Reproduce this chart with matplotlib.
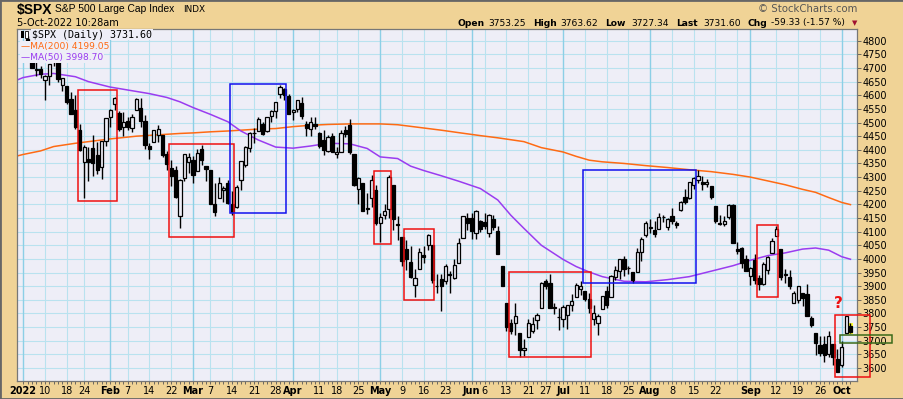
import pandas as pd
import matplotlib
matplotlib.use("Agg")
import matplotlib.pyplot as plt
from matplotlib.patches import Rectangle

# Donnees : S&P 500 quotidien, 3 jan 2022 -> 5 oct 2022
opens = [4778.1, 4804.5, 4788.0, 4693.4, 4697.7, 4655.3, 4669.1, 4728.6, 4733.6, 4638.0,
         4632.2, 4588.0, 4547.4, 4471.4, 4356.3, 4366.6, 4408.4, 4380.6, 4336.2, 4431.8,
         4519.6, 4566.4, 4535.4, 4482.8, 4505.8, 4480.0, 4547.0, 4553.2, 4506.3, 4412.6,
         4429.3, 4455.8, 4456.1, 4384.6, 4332.7, 4324.9, 4155.8, 4298.4, 4354.2,
         4363.1, 4322.6, 4401.3, 4342.1, 4327.0, 4202.7, 4223.1, 4252.6, 4279.5, 4202.8,
         4188.8, 4288.1, 4345.1, 4407.3, 4462.4, 4469.1, 4493.1, 4470.0, 4522.7, 4541.1,
         4602.9, 4624.2, 4599.0,
         4540.3, 4548.0, 4572.5, 4494.2, 4474.7, 4494.2, 4462.6, 4437.6, 4394.3, 4449.1,
         4385.6, 4390.6, 4472.3, 4489.2, 4385.8, 4255.3, 4278.1, 4186.5, 4222.6, 4253.8,
         4130.6, 4159.8, 4181.2, 4270.4, 4128.2, 4081.3, 4035.2, 3990.1, 3904.0, 3963.9,
         4013.0, 4052.0, 4052.0, 3899.0, 3927.8, 3919.4, 3942.9, 3929.6, 3984.6, 4077.4,
         4151.1,
         4149.8, 4095.4, 4137.6, 4134.7, 4096.5, 4147.1, 4101.7, 3974.4, 3838.2, 3763.5,
         3764.1, 3728.2, 3665.9, 3715.3, 3733.9, 3774.7, 3821.8, 3920.8, 3913.0, 3825.1,
         3786.0,
         3781.0, 3792.6, 3832.0, 3858.9, 3888.3, 3880.9, 3852.0, 3779.7, 3764.0, 3818.0,
         3883.8, 3860.7, 3935.3, 3955.5, 3998.4, 3965.7, 3953.2, 3951.4, 4026.1, 4087.3,
         4112.4, 4104.2, 4108.0, 4154.9, 4115.9, 4155.9, 4133.1, 4181.0, 4227.4, 4225.0,
         4269.4, 4290.5, 4280.4, 4273.1, 4266.3, 4195.1, 4133.1, 4126.6, 4153.3, 4198.7,
         4034.6, 4041.3, 4000.7,
         3936.7, 3994.7, 3930.9, 3909.4, 3959.9, 4022.9, 4083.7, 4037.1, 3940.7, 3932.4,
         3840.0, 3849.9, 3875.2, 3871.4, 3782.4, 3727.1, 3682.7, 3686.4, 3651.9, 3687.0,
         3633.5,
         3609.8, 3726.5, 3753.25]
highs = [4796.6, 4818.6, 4797.7, 4725.0, 4708.0, 4673.0, 4714.1, 4748.8, 4744.1, 4665.1,
         4632.2, 4611.6, 4602.1, 4494.5, 4417.4, 4411.0, 4453.2, 4428.7, 4432.7, 4516.9,
         4550.5, 4595.3, 4542.9, 4539.7, 4521.9, 4531.3, 4590.0, 4588.9, 4526.3, 4426.2,
         4472.8, 4489.6, 4456.1, 4394.6, 4362.1, 4341.5, 4294.7, 4385.3, 4388.8,
         4378.5, 4401.5, 4416.8, 4342.1, 4327.0, 4276.9, 4299.4, 4268.3, 4291.0, 4247.6,
         4271.1, 4358.9, 4412.7, 4465.4, 4481.8, 4522.0, 4501.1, 4520.6, 4546.0, 4575.7,
         4637.3, 4627.8, 4603.1,
         4548.7, 4583.5, 4593.5, 4503.9, 4521.2, 4520.4, 4464.4, 4471.0, 4453.9, 4460.5,
         4410.3, 4471.0, 4488.3, 4512.9, 4385.8, 4299.0, 4278.1, 4240.7, 4308.5, 4269.7,
         4169.8, 4200.1, 4307.7, 4270.4, 4157.7, 4081.3, 4068.8, 4049.1, 3964.8, 4038.9,
         4046.5, 4090.7, 4052.0, 3946.0, 3943.4, 3981.9, 3955.7, 3999.3, 4075.1, 4158.5,
         4168.3,
         4166.5, 4177.5, 4142.7, 4168.8, 4164.9, 4160.1, 4119.1, 3974.4, 3838.2, 3778.2,
         3837.6, 3728.2, 3707.7, 3779.7, 3786.0, 3802.6, 3913.7, 3927.7, 3945.9, 3836.5,
         3819.0,
         3829.8, 3832.2, 3870.9, 3910.6, 3918.5, 3880.9, 3873.4, 3829.4, 3796.4, 3863.6,
         3902.4, 3939.8, 3974.1, 3999.3, 4012.4, 3975.3, 3953.2, 4039.6, 4079.0, 4140.2,
         4145.0, 4140.5, 4167.7, 4161.3, 4151.6, 4186.6, 4137.3, 4211.0, 4257.9, 4280.5,
         4301.8, 4325.3, 4302.2, 4292.5, 4266.3, 4195.1, 4159.8, 4156.6, 4200.5, 4203.0,
         4063.0, 4045.0, 4015.4,
         3970.2, 4018.4, 3942.6, 3987.9, 4010.5, 4076.8, 4119.3, 4037.1, 3961.9, 3959.1,
         3881.0, 3900.5, 3876.0, 3907.1, 3790.7, 3727.1, 3715.7, 3717.5, 3736.7, 3687.0,
         3671.4,
         3698.4, 3791.9, 3763.62]
lows = [4758.2, 4774.3, 4699.4, 4671.3, 4662.7, 4582.2, 4638.3, 4706.7, 4650.3, 4614.8,
        4568.7, 4530.2, 4478.0, 4395.3, 4222.6, 4287.1, 4304.8, 4309.5, 4292.5, 4414.0,
        4483.5, 4544.3, 4470.4, 4451.5, 4471.5, 4465.4, 4547.0, 4484.3, 4401.4, 4364.8,
        4429.3, 4429.7, 4373.8, 4327.2, 4267.1, 4221.5, 4114.7, 4286.8, 4315.1,
        4279.5, 4322.6, 4345.6, 4285.0, 4199.9, 4157.9, 4223.1, 4209.8, 4200.5, 4161.7,
        4187.9, 4252.0, 4335.7, 4390.6, 4424.3, 4469.1, 4455.8, 4465.2, 4501.1, 4517.7,
        4589.7, 4581.3, 4530.4,
        4507.6, 4539.2, 4514.2, 4450.0, 4450.3, 4474.6, 4408.4, 4381.3, 4392.7, 4390.8,
        4370.3, 4390.6, 4448.8, 4384.5, 4267.6, 4200.8, 4175.0, 4162.9, 4188.6, 4124.3,
        4062.5, 4147.1, 4148.9, 4106.0, 4067.9, 3975.5, 3958.2, 3928.8, 3858.9, 3963.9,
        3984.0, 4033.9, 3911.9, 3876.6, 3810.3, 3909.0, 3875.1, 3925.0, 3984.6, 4077.4,
        4104.9,
        4073.9, 4074.4, 4098.7, 4109.2, 4080.2, 4107.2, 4017.2, 3900.2, 3734.3, 3724.8,
        3722.3, 3639.8, 3643.7, 3715.3, 3729.3, 3743.5, 3821.8, 3889.7, 3820.1, 3799.0,
        3738.7,
        3752.1, 3742.1, 3809.4, 3858.9, 3869.3, 3847.2, 3802.4, 3759.1, 3721.6, 3817.2,
        3818.6, 3860.7, 3922.0, 3927.6, 3938.9, 3943.5, 3910.7, 3951.4, 3993.0, 4079.2,
        4096.0, 4079.8, 4108.0, 4135.4, 4107.3, 4129.0, 4112.1, 4177.3, 4201.4, 4219.8,
        4256.9, 4277.8, 4253.1, 4262.0, 4218.7, 4129.9, 4124.0, 4120.0, 4147.6, 4057.7,
        4017.4, 3965.2, 3954.5,
        3903.7, 3906.2, 3886.8, 3906.0, 3944.8, 4022.9, 4083.7, 3921.7, 3912.1, 3888.3,
        3837.1, 3838.5, 3827.5, 3789.5, 3749.5, 3647.5, 3644.8, 3623.3, 3640.6, 3610.4,
        3584.1,
        3604.9, 3726.5, 3727.34]
closes = [4796.6, 4793.5, 4700.6, 4696.1, 4677.0, 4670.3, 4713.1, 4726.4, 4659.0, 4662.9,
          4577.1, 4532.8, 4482.7, 4397.9, 4410.1, 4356.5, 4349.9, 4326.5, 4431.9, 4515.6,
          4546.5, 4589.4, 4477.4, 4500.5, 4483.9, 4521.5, 4587.2, 4504.1, 4418.6, 4401.7,
          4471.1, 4475.0, 4380.3, 4348.9, 4304.8, 4225.5, 4288.7, 4384.7, 4373.9,
          4306.3, 4386.5, 4363.5, 4328.9, 4201.1, 4170.7, 4277.9, 4259.5, 4204.3, 4173.1,
          4262.5, 4357.9, 4411.7, 4463.1, 4461.2, 4511.6, 4456.2, 4520.2, 4543.1, 4575.5,
          4631.6, 4602.5, 4530.4,
          4545.9, 4582.6, 4525.1, 4481.2, 4500.2, 4488.3, 4412.5, 4397.5, 4446.6, 4392.6,
          4391.7, 4462.2, 4459.5, 4393.7, 4271.8, 4296.1, 4175.2, 4184.0, 4287.5, 4131.9,
          4155.4, 4175.5, 4300.2, 4146.9, 4123.3, 3991.2, 4001.1, 3935.2, 3930.1, 4023.9,
          4008.0, 4088.9, 3923.7, 3900.8, 3901.4, 3973.8, 3941.5, 3978.7, 4057.8, 4158.2,
          4132.2,
          4101.2, 4176.8, 4108.5, 4121.4, 4160.7, 4115.8, 4017.8, 3900.9, 3749.6, 3735.5,
          3790.0, 3666.8, 3674.8, 3764.8, 3759.9, 3795.7, 3911.7, 3900.1, 3821.6, 3818.8,
          3785.4,
          3825.3, 3831.4, 3845.1, 3902.6, 3899.4, 3854.4, 3818.8, 3801.8, 3790.4, 3863.2,
          3830.9, 3936.7, 3959.9, 3999.0, 3961.6, 3966.8, 3921.1, 4023.6, 4072.4, 4130.3,
          4118.6, 4091.2, 4155.2, 4151.9, 4145.2, 4140.1, 4122.5, 4210.2, 4207.3, 4280.2,
          4297.1, 4305.2, 4274.0, 4283.7, 4228.5, 4138.0, 4128.7, 4140.8, 4199.1, 4057.7,
          4030.6, 3986.2, 3955.0,
          3966.9, 3924.3, 3908.2, 3979.9, 4006.2, 4067.4, 4110.4, 3932.7, 3946.0, 3901.4,
          3873.3, 3899.9, 3855.9, 3789.9, 3758.0, 3693.2, 3655.0, 3647.3, 3719.0, 3640.5,
          3585.6,
          3678.4, 3790.9, 3731.60]

# Moyennes mobiles (echantillons)
ma_dates = ["2021-12-30", "2022-01-03", "2022-01-07", "2022-01-12", "2022-01-20", "2022-01-25",
            "2022-02-01", "2022-02-09", "2022-02-14", "2022-02-18", "2022-02-24", "2022-03-01",
            "2022-03-07", "2022-03-11", "2022-03-16", "2022-03-22", "2022-03-28", "2022-04-01",
            "2022-04-07", "2022-04-13", "2022-04-21", "2022-04-27", "2022-05-02", "2022-05-06",
            "2022-05-11", "2022-05-16", "2022-05-20", "2022-05-26", "2022-06-03", "2022-06-09",
            "2022-06-14", "2022-06-17", "2022-06-24", "2022-07-01", "2022-07-07", "2022-07-12",
            "2022-07-15", "2022-07-22", "2022-07-29", "2022-08-05", "2022-08-12", "2022-08-19",
            "2022-08-26", "2022-09-01", "2022-09-08", "2022-09-14", "2022-09-20", "2022-09-23",
            "2022-09-28", "2022-10-03", "2022-10-05"]
ma200 = [4375, 4383, 4396, 4412, 4424, 4430,
         4440, 4450, 4453, 4457, 4460, 4462,
         4466, 4469, 4472, 4476, 4478, 4485,
         4490, 4493, 4495, 4495, 4495, 4492,
         4486, 4480, 4472, 4463, 4452, 4444,
         4437, 4430, 4408, 4392, 4376, 4362,
         4356, 4350, 4342, 4335, 4327, 4320,
         4310, 4300, 4286, 4272, 4255, 4244,
         4225, 4207, 4199.05]
ma50 = [4652, 4665, 4677, 4680, 4668, 4650,
        4630, 4614, 4606, 4592, 4576, 4555,
        4530, 4503, 4469, 4436, 4410, 4406,
        4414, 4424, 4422, 4405, 4374, 4368,
        4340, 4324, 4305, 4285, 4258, 4216,
        4160, 4112, 4050, 3998, 3972, 3952,
        3935, 3918, 3916, 3924, 3935, 3955,
        3975, 3995, 4012, 4022, 4036, 4040,
        4032, 4008, 3998.70]

xticks = ["2022-01-03", "2022-01-10", "2022-01-18", "2022-01-24", "2022-02-01", "2022-02-07",
          "2022-02-14", "2022-02-22", "2022-03-01", "2022-03-07", "2022-03-14", "2022-03-21",
          "2022-03-28", "2022-04-01", "2022-04-11", "2022-04-18", "2022-04-25", "2022-05-02",
          "2022-05-09", "2022-05-16", "2022-05-23", "2022-06-01", "2022-06-06", "2022-06-13",
          "2022-06-21", "2022-06-27", "2022-07-01", "2022-07-11", "2022-07-18", "2022-07-25",
          "2022-08-01", "2022-08-08", "2022-08-15", "2022-08-22", "2022-08-29", "2022-09-01",
          "2022-09-12", "2022-09-19", "2022-09-26", "2022-10-03"]
xlabels = ["2022", "10", "18", "24", "Feb", "7", "14", "22", "Mar", "7", "14", "21", "28", "Apr",
           "11", "18", "25", "May", "9", "16", "23", "Jun", "6", "13", "21", "27", "Jul", "11",
           "18", "25", "Aug", "8", "15", "22", "", "Sep", "12", "19", "26", "Oct"]

# boites dessinees a la main : (debut, fin, haut, bas, couleur)
boxes = [("2022-01-21", "2022-02-02", 4619, 4212, "#ee1111"),
         ("2022-02-22", "2022-03-14", 4420, 4080, "#ee1111"),
         ("2022-03-14", "2022-03-30", 4640, 4167, "#1111ee"),
         ("2022-04-29", "2022-05-04", 4322, 4053, "#ee1111"),
         ("2022-05-10", "2022-05-18", 4108, 3848, "#ee1111"),
         ("2022-06-14", "2022-07-12", 3951, 3640, "#ee1111"),
         ("2022-07-11", "2022-08-15", 4325, 3913, "#1111ee"),
         ("2022-09-06", "2022-09-12", 4124, 3860, "#ee1111"),
         ("2022-09-30", "2022-10-11", 3794, 3567, "#ee1111"),
         ("2022-10-03", "2022-10-18", 3721, 3691, "#3a6a1a")]

# calendrier de bourse
holidays = ["2022-01-17", "2022-02-21", "2022-04-15", "2022-05-30", "2022-06-20",
            "2022-07-04", "2022-09-05"]
days = [d for d in pd.bdate_range("2021-12-30", "2022-10-31") if d.strftime("%Y-%m-%d") not in holidays]
pos = {d.strftime("%Y-%m-%d"): i - 2 for i, d in enumerate(days)}

bg = "#eeeef7"
tan = "#f0d396"

fig = plt.figure(figsize=(9.04, 3.99), dpi=100, facecolor=tan)
W, H = 904, 399
ax = fig.add_axes([17 / W, 1 - 380.7 / H, 840 / W, 351.7 / H])
ax.set_facecolor(bg)
ax.set_xlim(-1.42, 191.5)
ax.set_ylim(3553.4, 4843)

# grille
for v in range(3600, 4801, 50):
    ax.axhline(v, color="#b9e2ef", lw=0.8, zorder=0)
for d, lab in zip(xticks, xlabels):
    month = lab.isalpha() or lab == "2022"
    ax.axvline(pos[d], color="#8ccfe6" if month else "#b9e2ef", lw=1.0 if month else 0.8, zorder=0)

# moyennes mobiles
xm = [pos[d] for d in ma_dates]
ax.plot(xm, ma200, color="#ff6a13", lw=1.1, zorder=2)
ax.plot(xm, ma50, color="#9a3cf0", lw=1.1, zorder=2)

# chandeliers
n = len(closes)
for i in range(n):
    o, h, l, c = opens[i], highs[i], lows[i], closes[i]
    if i == n - 1:
        ax.add_patch(Rectangle((i - 0.55, l - 3), 1.1, h - l + 6, facecolor="#ffff33",
                               edgecolor="none", zorder=2))
    ax.vlines(i, l, h, color="black", lw=1.0, zorder=3)
    ax.add_patch(Rectangle((i - 0.37, min(o, c)), 0.74, max(abs(c - o), 0.5),
                           facecolor="black" if c < o else bg, edgecolor="black",
                           lw=0.9, zorder=4))

for d0, d1, top, bot, col in boxes:
    ax.add_patch(Rectangle((pos[d0] - 0.45, bot), pos[d1] - pos[d0] + 0.9, top - bot,
                           fill=False, edgecolor=col, lw=1.1, zorder=5, clip_on=False))
ax.text(pos["2022-09-30"] + 0.3, 3838, "?", color="#ee1111", fontsize=11, fontweight="bold",
        ha="center", va="center", zorder=6)

# axes
ax.yaxis.tick_right()
ax.set_yticks(range(3600, 4801, 50))
ax.tick_params(axis="y", length=3, width=0.6, colors="#555555", labelcolor="black",
               labelsize=7, pad=1)
ax.set_xticks([pos[d] for d in xticks])
ax.set_xticklabels(xlabels)
ax.set_xticks(range(0, n), minor=True)
ax.tick_params(axis="x", which="both", length=2, width=0.6, colors="#555555",
               labelcolor="black", labelsize=7, pad=2)
for t in ax.get_xticklabels():
    if t.get_text().isalpha() or t.get_text() == "2022":
        t.set_fontweight("bold")
for s in ax.spines.values():
    s.set_color("#777777")
    s.set_linewidth(0.9)

# legende
lg = dict(transform=ax.transAxes, va="center", ha="left", zorder=7,
          bbox=dict(facecolor=bg, edgecolor="none", pad=0.5))
ax.text(15 / 840, 1 - 5.5 / 351.7, "$SPX (Daily) 3731.60", family="DejaVu Sans Mono",
        fontsize=7.2, color="black", **lg)
ax.text(4 / 840, 1 - 17.5 / 351.7, "\u2014MA(200) 4199.05", fontsize=6.6, color="#ff6a13", **lg)
ax.text(4 / 840, 1 - 28.5 / 351.7, "\u2014MA(50) 3998.70", fontsize=6.6, color="#9a3cf0", **lg)
ax.add_patch(Rectangle((4 / 840, 1 - 9 / 351.7), 2.5 / 840, 7 / 351.7, transform=ax.transAxes,
                       facecolor="black", zorder=8))
ax.add_patch(Rectangle((8 / 840, 1 - 9 / 351.7), 2.5 / 840, 7 / 351.7, transform=ax.transAxes,
                       facecolor="white", edgecolor="black", lw=0.6, zorder=8))


def ft(x, y, s, **kw):
    fig.text(x / W, 1 - y / H, s, va="center", **kw)


ft(17, 10, "$SPX", fontsize=10, fontweight="bold", family="Liberation Sans")
ft(55, 9.5, "S&P 500 Large Cap Index", fontsize=7.4, family="Liberation Sans")
ft(183, 9.5, "INDX", fontsize=6.4, family="DejaVu Sans")
ft(17, 23, "5-Oct-2022 10:28am", fontsize=7, family="DejaVu Sans")
ft(857, 9, "\u00a9 StockCharts.com", fontsize=7.3, color="#555555", ha="right")
head = [(457, "Open", True), (488, "3753.25", False), (533, "High", True), (560, "3763.62", False),
        (605, "Low", True), (631, "3727.34", False), (676, "Last", True), (703, "3731.60", False),
        (748, "Chg", True), (771, "-59.33 (-1.57 %)", False)]
for x, s, b in head:
    ft(x, 23, s, fontsize=6.6, fontweight="bold" if b else "normal")
ft(852, 23.5, "\u25bc", fontsize=5, color="#a01030")

fig.patches.append(Rectangle((0, 0), 1, 1, transform=fig.transFigure, fill=False,
                             edgecolor="#666666", lw=2))

fig.savefig("out.png", dpi=100, facecolor=tan)
